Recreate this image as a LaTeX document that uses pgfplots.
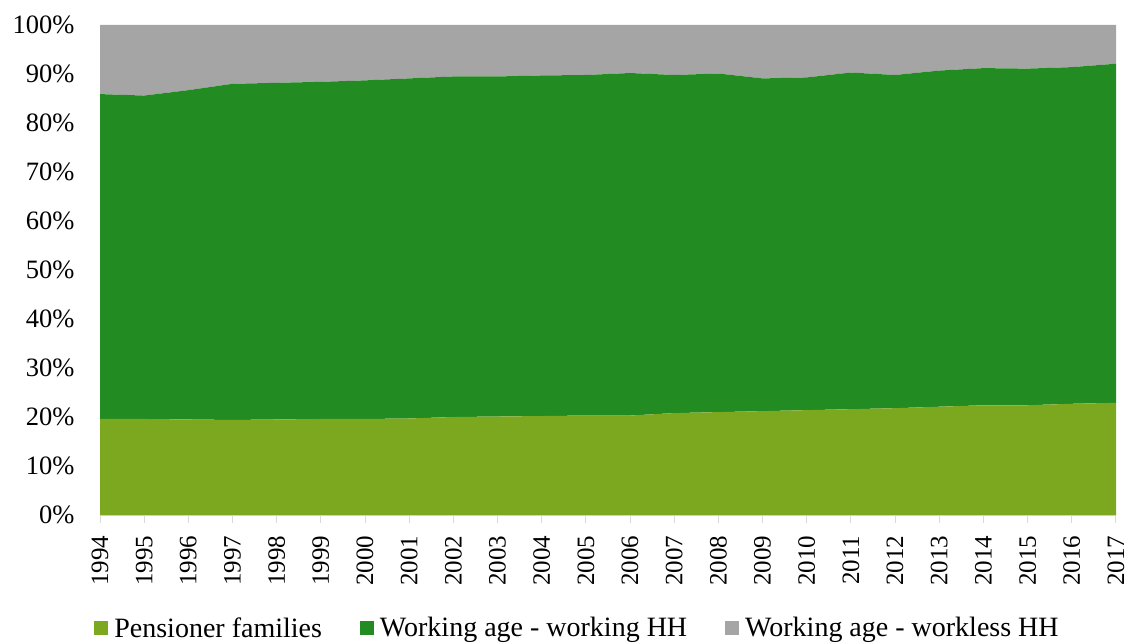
\documentclass[border=0pt]{standalone}
\usepackage{pgfplots}
\pgfplotsset{compat=1.18}
\usepackage{pgfplotstable}
\usepackage{fontspec}
\setmainfont{Liberation Serif}
\definecolor{pens}{HTML}{7CA81F}
\definecolor{work}{HTML}{228B22}
\definecolor{workless}{HTML}{A5A5A5}
\definecolor{axgray}{HTML}{D9D9D9}
\pgfplotstableread{
year pens work workless
1994 19.6 66.3 14.1
1995 19.6 66.0 14.4
1996 19.5 67.2 13.3
1997 19.4 68.6 12.0
1998 19.5 68.7 11.8
1999 19.6 68.8 11.6
2000 19.6 69.1 11.3
2001 19.7 69.4 10.9
2002 20.0 69.5 10.5
2003 20.1 69.4 10.5
2004 20.2 69.5 10.3
2005 20.3 69.5 10.2
2006 20.3 69.9 9.8
2007 20.8 69.0 10.2
2008 21.0 69.1 9.9
2009 21.2 67.9 10.9
2010 21.4 67.9 10.7
2011 21.6 68.7 9.7
2012 21.8 68.0 10.2
2013 22.1 68.6 9.3
2014 22.4 68.8 8.8
2015 22.4 68.7 8.9
2016 22.7 68.7 8.6
2017 22.9 69.2 7.9
}\datatable
\begin{document}
\begin{tikzpicture}
\begin{axis}[
  scale only axis,
  width=1016pt, height=490pt,
  xmin=1994, xmax=2017, ymin=0, ymax=100,
  stack plots=y,
  axis x line*=bottom, axis y line*=left,
  axis line style={axgray, line width=1pt},
  xtick={1994,...,2017},
  xticklabel style={rotate=90, anchor=east, /pgf/number format/1000 sep={}, font=\fontsize{25}{29}\selectfont},
  yticklabel style={font=\fontsize{26.5}{30}\selectfont},
  xticklabel shift=9pt,
  yticklabel shift=14pt,
  x tick style={axgray, line width=1pt},
  tick align=outside,
  major tick length=8pt,
  ytick={0,10,...,100},
  yticklabel={\pgfmathprintnumber{\tick}\%},
  y tick style={draw=none},
  /pgf/number format/assume math mode=true,
  legend style={at={(0.47,-0.2306)}, anchor=center, draw=none, legend columns=3,
    font=\fontsize{28}{32}\selectfont, /tikz/every even column/.append style={column sep=36pt}},
  legend image code/.code={\fill[#1] (0pt,-7pt) rectangle (14pt,7pt); \path (18pt,0pt);},
]
\addplot[fill=pens, draw=none] table[x=year, y=pens] {\datatable} \closedcycle;
\addlegendentry{Pensioner families}
\addplot[fill=work, draw=none] table[x=year, y=work] {\datatable} \closedcycle;
\addlegendentry{Working age - working HH}
\addplot[fill=workless, draw=none] table[x=year, y=workless] {\datatable} \closedcycle;
\addlegendentry{Working age - workless HH}
\end{axis}
\pgfresetboundingbox
\useasboundingbox ([xshift=-100pt,yshift=25pt]current axis.north west) rectangle ([xshift=13pt,yshift=-128pt]current axis.south east);
\end{tikzpicture}
\end{document}
